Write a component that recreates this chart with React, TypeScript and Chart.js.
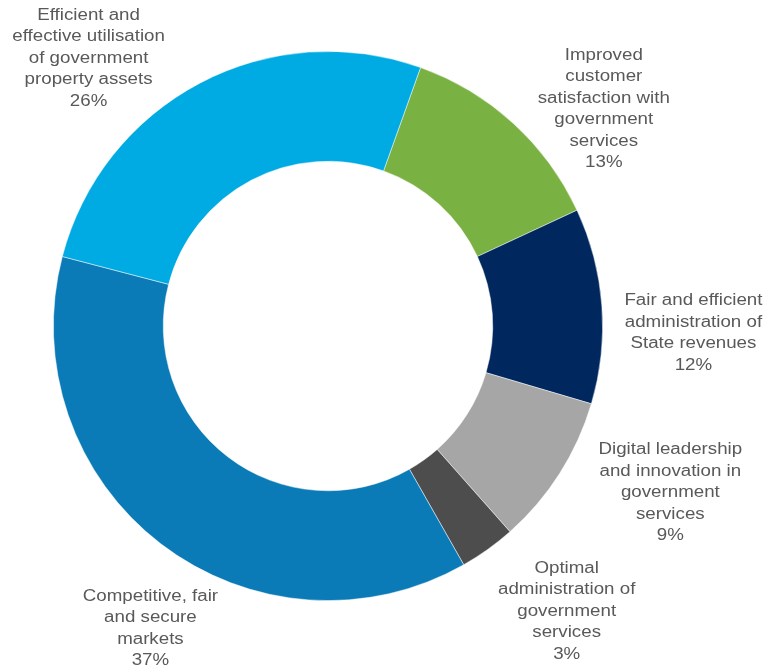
import React, { useEffect, useRef } from "react";
import { Chart, registerables } from "chart.js";

Chart.register(...registerables);

const categories: string[][] = [
  ["Improved", "customer", "satisfaction with", "government", "services"],
  ["Fair and efficient", "administration of", "State revenues"],
  ["Digital leadership", "and innovation in", "government", "services"],
  ["Optimal", "administration of", "government", "services"],
  ["Competitive, fair", "and secure", "markets"],
  ["Efficient and", "effective utilisation", "of government", "property assets"],
];

const shares: number[] = [12.6, 11.5, 8.9, 3.3, 37.3, 26.4];

const sliceColors: string[] = ["#7AB143", "#00285F", "#A6A6A6", "#4D4D4D", "#0B7BB8", "#00AAE3"];

// label placement: [angle in degrees clockwise from top, distance as a multiple of the outer radius]
const labelPlacement: [number, number][] = [
  [51.8, 1.278],
  [91.1, 1.331],
  [116.0, 1.387],
  [140.1, 1.355],
  [210.4, 1.278],
  [318.2, 1.308],
];

const outsideLabels = {
  id: "outsideLabels",
  afterDatasetsDraw(chart: any) {
    const meta = chart.getDatasetMeta(0);
    const ctx = chart.ctx as CanvasRenderingContext2D;
    const data = chart.data.datasets[0].data as number[];
    const total = data.reduce((a, b) => a + b, 0);
    ctx.save();
    ctx.font = "16px 'Liberation Sans', Arial, sans-serif";
    ctx.fillStyle = "#595959";
    ctx.textAlign = "center";
    ctx.textBaseline = "middle";
    const lineH = 21.5;
    const stretch = 1.17;
    meta.data.forEach((arc: any, i: number) => {
      const [angDeg, f] = labelPlacement[i];
      const a = (angDeg * Math.PI) / 180;
      const r = arc.outerRadius * f;
      const cx = arc.x + r * Math.sin(a);
      const cy = arc.y - r * Math.cos(a);
      const lines = [...categories[i], Math.round((data[i] / total) * 100) + "%"];
      const startY = cy - ((lines.length - 1) * lineH) / 2;
      lines.forEach((ln, k) => {
        ctx.save();
        ctx.translate(cx, startY + k * lineH);
        ctx.scale(stretch, 1);
        ctx.fillText(ln, 0, 0);
        ctx.restore();
      });
    });
    ctx.restore();
  },
};

export default function App() {
  const ref = useRef<HTMLCanvasElement | null>(null);
  useEffect(() => {
    if (!ref.current) return;
    const chart = new Chart(ref.current, {
      type: "doughnut",
      data: {
        labels: categories.map((c) => c.join(" ")),
        datasets: [
          {
            data: shares,
            backgroundColor: sliceColors,
            borderColor: "rgba(255,255,255,0.6)",
            borderWidth: 0.8,
          },
        ],
      },
      options: {
        responsive: false,
        animation: false,
        rotation: 19.7,
        cutout: "60%",
        layout: { padding: { left: 53, right: 163, top: 51, bottom: 71 } },
        plugins: {
          legend: { display: false },
          tooltip: { enabled: false },
        },
        events: [],
      },
      plugins: [outsideLabels],
    });
    return () => chart.destroy();
  }, []);
  return (
    <div style={{ position: "fixed", left: 0, top: 0, width: 766, height: 672, background: "#fff" }}>
      <canvas ref={ref} width={766} height={672} style={{ display: "block" }} />
    </div>
  );
}
